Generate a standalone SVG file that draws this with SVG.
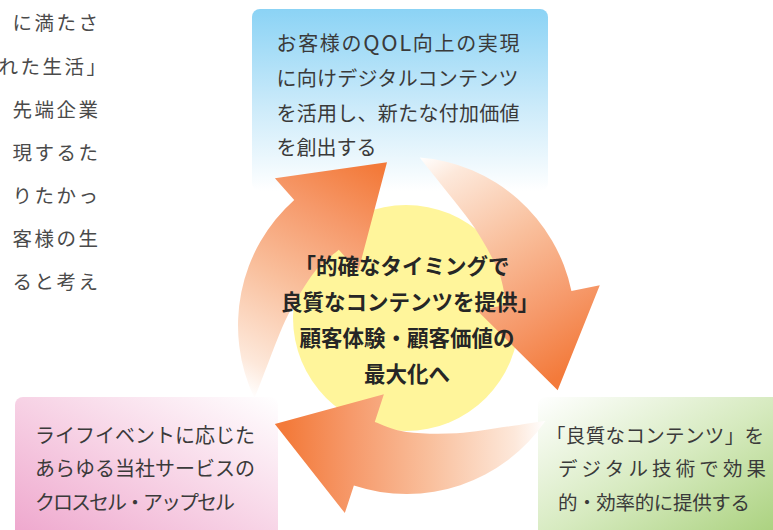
<svg xmlns="http://www.w3.org/2000/svg" width="773" height="530" viewBox="0 0 773 530">
  <style>
    .t { font-family: "Noto Sans CJK JP", "Noto Sans", sans-serif; fill: #3a3a3a; }
    .box { font-size: 20px; }
    .grn { font-size: 19.5px; }
    .ctr { font-size: 21.5px; font-weight: 700; fill: #262626; text-anchor: middle; }
    .bg { font-size: 19.5px; letter-spacing: 2.5px; fill: #4a4a4a; text-anchor: end; }
    .arrow { fill: url(#gArrow); }
  </style>
  <defs>
    <linearGradient id="gBlue" x1="0" y1="0" x2="0" y2="1">
      <stop offset="0" stop-color="#8bd3f5"/>
      <stop offset="0.55" stop-color="#cdebfa"/>
      <stop offset="1" stop-color="#ffffff"/>
    </linearGradient>
    <linearGradient id="gPink" x1="0" y1="1" x2="1" y2="0">
      <stop offset="0" stop-color="#eea5cc"/>
      <stop offset="0.5" stop-color="#f7d2e5"/>
      <stop offset="1" stop-color="#ffffff"/>
    </linearGradient>
    <linearGradient id="gGreen" x1="0" y1="0" x2="1" y2="1">
      <stop offset="0" stop-color="#ffffff"/>
      <stop offset="0.5" stop-color="#d6eabf"/>
      <stop offset="1" stop-color="#a6cf78"/>
    </linearGradient>
    <linearGradient id="gArrow" gradientUnits="userSpaceOnUse" x1="254" y1="398" x2="380" y2="170">
      <stop offset="0" stop-color="#ffffff"/>
      <stop offset="0.12" stop-color="#fde8da"/>
      <stop offset="0.45" stop-color="#f9bf9c"/>
      <stop offset="0.75" stop-color="#f6996a"/>
      <stop offset="1" stop-color="#f37a3a"/>
    </linearGradient>
  </defs>

  <g id="background-text" class="t bg">
    <text x="100.5" y="30">に満たさ</text>
    <text x="108.5" y="73.5">れた生活」</text>
    <text x="100.5" y="116.5">先端企業</text>
    <text x="100.5" y="159.5">現するた</text>
    <text x="100.5" y="202.5">りたかっ</text>
    <text x="100.5" y="245.5">客様の生</text>
    <text x="100.5" y="288.5">ると考え</text>
  </g>

  <g id="node-top">
    <rect x="252" y="9" width="296" height="182" rx="8" fill="url(#gBlue)"/>
    <text class="t box" x="276.5" y="51" textLength="243" lengthAdjust="spacing">お客様の<tspan font-size="22">QOL</tspan>向上の実現</text>
    <text class="t box" x="276.5" y="86" textLength="242" lengthAdjust="spacing">に向けデジタルコンテンツ</text>
    <text class="t box" x="276.5" y="121" textLength="243" lengthAdjust="spacing">を活用し、新たな付加価値</text>
    <text class="t box" x="276.5" y="154.5">を創出する</text>
  </g>

  <g id="node-left">
    <rect x="15" y="397" width="263" height="145" rx="8" fill="url(#gPink)"/>
    <text class="t box" x="35" y="442.5">ライフイベントに応じた</text>
    <text class="t box" x="35" y="476">あらゆる当社サービスの</text>
    <text class="t box" x="35" y="509.5" textLength="200" lengthAdjust="spacing">クロスセル・アップセル</text>
  </g>

  <g id="node-right">
    <rect x="538" y="397" width="245" height="145" rx="8" fill="url(#gGreen)"/>
    <text class="t grn" x="546" y="442.5" textLength="218" lengthAdjust="spacing">「良質なコンテンツ」を</text>
    <text class="t grn" x="558" y="476" textLength="208" lengthAdjust="spacing">デジタル技術で効果</text>
    <text class="t grn" x="558" y="509.5" textLength="192" lengthAdjust="spacing">的・効率的に提供する</text>
  </g>

  <g id="node-center">
    <circle cx="406" cy="318" r="113" fill="#fff59b"/>
  </g>

  <g id="connectors">
    <path class="arrow" d="M254.4,398 A168.5,168.5 0 0 1 294.2,199.9 L274.9,178.3 L387,162.2 L358.2,271.5 L338.8,249.8 C334.7,253.5 322.8,261.3 314.3,272.2 C305.8,283.1 295.7,300.1 288,315.1 C280.4,330.2 273.9,348.7 268.4,362.5 C262.9,376.3 257.2,391.9 254.4,398 Z"/>
    <path class="arrow" transform="rotate(120 406.5 325.5)" d="M254.4,398 A168.5,168.5 0 0 1 294.2,199.9 L274.9,178.3 L387,162.2 L358.2,271.5 L338.8,249.8 C334.7,253.5 322.8,261.3 314.3,272.2 C305.8,283.1 295.7,300.1 288,315.1 C280.4,330.2 273.9,348.7 268.4,362.5 C262.9,376.3 257.2,391.9 254.4,398 Z"/>
    <path class="arrow" transform="rotate(-120 406.5 325.5)" d="M254.4,398 A168.5,168.5 0 0 1 294.2,199.9 L274.9,178.3 L387,162.2 L358.2,271.5 L338.8,249.8 C334.7,253.5 322.8,261.3 314.3,272.2 C305.8,283.1 295.7,300.1 288,315.1 C280.4,330.2 273.9,348.7 268.4,362.5 C262.9,376.3 257.2,391.9 254.4,398 Z"/>
  </g>

  <g id="node-center-label" class="t ctr">
    <text x="402" y="273.5">「的確なタイミングで</text>
    <text x="410" y="309.5">良質なコンテンツを提供」</text>
    <text x="407" y="345.5">顧客体験・顧客価値の</text>
    <text x="407" y="381.5">最大化へ</text>
  </g>
</svg>
